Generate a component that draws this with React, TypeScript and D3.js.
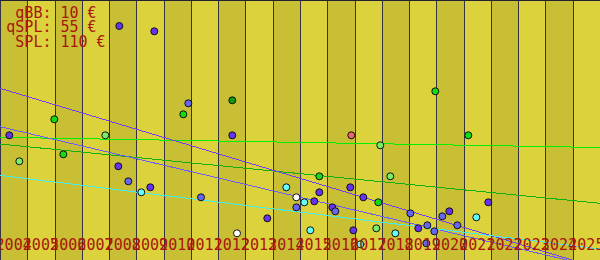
import React from "react";
import * as d3 from "d3";

const W = 600;
const H = 260;

// Year bands (x axis categories)
const years = d3.range(2004, 2026);
const yearLabels = years.map((y) => String(y));

// Legend lines
const legendLines = [" qBB: 10 €", "qSPL: 55 €", " SPL: 110 €"];

// Scatter points: fractional year, price value, color group
const pointYears = [
  2008.375, 2009.658, 2010.905, 2010.721, 2005.991, 2004.341, 2007.861, 2006.321, 2004.708, 2008.338,
  2008.705, 2009.511, 2009.181, 2011.37, 2012.518, 2012.518, 2016.881, 2017.944, 2015.708, 2018.311,
  2014.498, 2016.844, 2015.708, 2014.865, 2017.321, 2015.158, 2015.524, 2017.871, 2014.865, 2016.185,
  2016.295, 2019.961, 2021.171, 2021.905, 2012.69, 2013.801, 2019.045, 2020.218, 2020.475, 2021.465,
  2015.378, 2016.955, 2017.798, 2018.495, 2019.338, 2019.668, 2019.925, 2020.768, 2017.211, 2019.631,
];
const pointValues = [
  117, 114.35, 78.35, 72.85, 70.35, 62.35, 62.35, 52.85, 49.35, 46.85,
  39.35, 36.35, 33.85, 31.35, 79.85, 62.35, 62.35, 57.35, 41.85, 41.85,
  36.35, 36.35, 33.85, 31.35, 31.35, 28.85, 29.35, 28.85, 26.35, 26.35,
  24.35, 84.35, 62.35, 28.85, 13.35, 20.85, 23.35, 21.85, 24.35, 21.35,
  14.85, 14.85, 15.85, 13.35, 15.85, 17.35, 14.35, 17.35, 7.85, 8.35,
];
const pointGroups = [
  "purple", "purple", "blue", "green", "green", "purple", "lightgreen", "green", "lightgreen", "purple",
  "blue", "purple", "cyan", "blue", "darkgreen", "purple", "salmon", "lightgreen", "green", "lightgreen",
  "cyan", "purple", "purple", "white", "purple", "cyan", "purple", "green", "blue", "purple",
  "blue", "green", "green", "purple", "white", "purple", "blue", "blue", "purple", "cyan",
  "cyan", "purple", "lightgreen", "cyan", "purple", "blue", "blue", "blue", "cyan", "blue",
];

// Trend lines: start/end years and values
const trendNames = ["lightgreenLine", "darkgreenLine", "blueLine", "purpleLine", "cyanLine"];
const trendYears = [
  [2004, 2026],
  [2004, 2026],
  [2004, 2026],
  [2004, 2026],
  [2004, 2026],
];
const trendValues = [
  [61.35, 56.25],
  [58, 28.35],
  [66.65, -3.85],
  [85.85, -4.15],
  [42.35, 5.5],
];

const colors: Record<string, string> = {
  purple: "#6633ee",
  blue: "#6666ee",
  green: "#11dd11",
  darkgreen: "#119911",
  lightgreen: "#77ee66",
  cyan: "#66ffff",
  white: "#ffffff",
  salmon: "#ee6666",
  lightgreenLine: "#00f000",
  darkgreenLine: "#10b010",
  blueLine: "#6a5cff",
  purpleLine: "#7040f0",
  cyanLine: "#44eeee",
};

export default function App() {
  const x = d3.scaleLinear().domain([2004, 2026]).range([0, W]);
  const y = d3.scaleLinear().domain([0, 130]).range([H, 0]);
  const line = d3
    .line<[number, number]>()
    .x((d) => x(d[0]))
    .y((d) => y(d[1]));

  React.useEffect(() => {
    document.body.style.margin = "0";
  }, []);

  const mono = "'DejaVu Sans Mono', monospace";
  const textColor = "#a8160c";

  // odd-index labels first, even-index labels drawn on top
  const labelOrder = [
    ...years.map((_, i) => i).filter((i) => i % 2 === 1),
    ...years.map((_, i) => i).filter((i) => i % 2 === 0),
  ];

  return (
    <svg
      width={W}
      height={H}
      style={{ position: "absolute", left: 0, top: 0, display: "block" }}
    >
      {years.map((yr, i) => (
        <rect
          key={"b" + yr}
          x={x(yr)}
          y={0}
          width={x(yr + 1) - x(yr)}
          height={H}
          fill={i % 2 === 0 ? "#c9bf35" : "#dcd23c"}
          shapeRendering="crispEdges"
        />
      ))}
      {years.map((yr) => (
        <line
          key={"v" + yr}
          x1={Math.round(x(yr)) + 0.5}
          x2={Math.round(x(yr)) + 0.5}
          y1={0}
          y2={H}
          stroke="#333344"
          strokeWidth={1}
          shapeRendering="crispEdges"
        />
      ))}
      <line x1={0} x2={W} y1={0.5} y2={0.5} stroke="#222233" shapeRendering="crispEdges" />
      {trendNames.map((name, i) => (
        <path
          key={name}
          d={line([
            [trendYears[i][0], trendValues[i][0]],
            [trendYears[i][1], trendValues[i][1]],
          ]) || ""}
          fill="none"
          stroke={colors[name]}
          strokeWidth={1}
          shapeRendering="crispEdges"
        />
      ))}
      {pointYears.map((yr, i) => (
        <circle
          key={"p" + i}
          cx={x(yr)}
          cy={y(pointValues[i])}
          r={3.5}
          fill={colors[pointGroups[i]]}
          stroke="#111111"
          strokeWidth={1}
        />
      ))}
      {labelOrder.map((i) => (
        <text
          key={"l" + yearLabels[i]}
          x={x(years[i] + 0.5)}
          y={250}
          textAnchor="middle"
          fontFamily={mono}
          fontSize={15}
          fill={textColor}
        >
          {yearLabels[i]}
        </text>
      ))}
      {legendLines.map((t, i) => (
        <text
          key={"g" + i}
          x={6.3}
          y={17.5 + i * 14.5}
          fontFamily={mono}
          fontSize={15}
          fill={textColor}
          style={{ whiteSpace: "pre" }}
          xmlSpace="preserve"
        >
          {t}
        </text>
      ))}
    </svg>
  );
}
